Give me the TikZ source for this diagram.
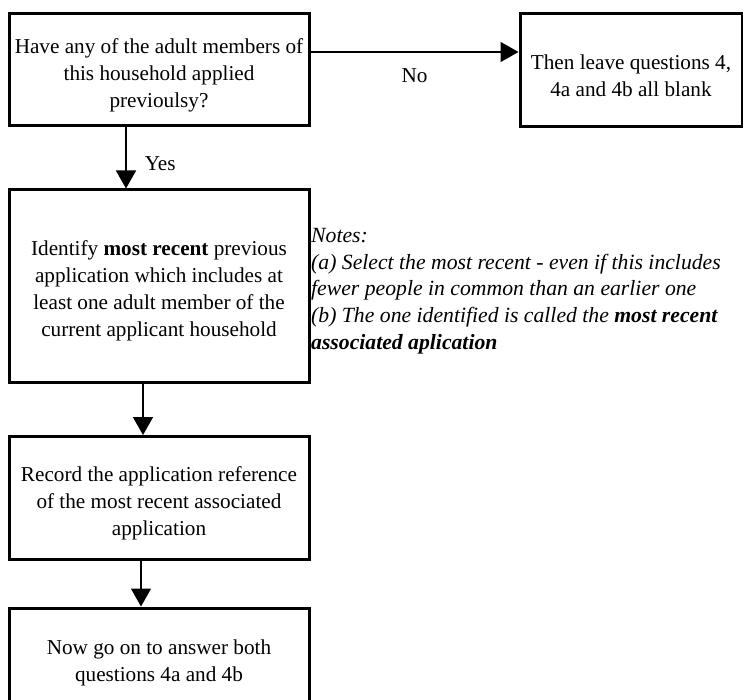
\documentclass[tikz,border=0pt]{standalone}
\usepackage{fontspec}
\setmainfont{Liberation Serif}
\usetikzlibrary{arrows.meta}

\newcommand{\boxgap}{\rule{0pt}{25pt}}

\begin{document}
\begin{tikzpicture}[x=1pt,y=-1pt]

	%\draw[help lines] (0,0) grid[step=50] (743,700);

	\tikzset{box/.style={draw,line width=3pt,inner sep=0pt,align=center,font=\fontsize{21.2}{27}\selectfont}}
	\tikzset{arr/.style={line width=1.5pt,-{Triangle[length=18pt,width=20pt]}}}
	\tikzset{lbl/.style={inner sep=0pt,font=\fontsize{21.2}{27}\selectfont}}

	\useasboundingbox (0,0) rectangle (743,700);
	\clip (0,0) rectangle (743,700);

	% boxes

	\node[box,minimum width=300pt,minimum height=112pt] (ask) at (159,70) {\boxgap Have any of the adult members of\\this household applied\\previoulsy?};
	\node[box,minimum width=222pt,minimum height=113pt] (blank) at (631,70.5) {\boxgap Then leave questions 4,\\4a and 4b all blank};
	\node[box,minimum width=300pt,minimum height=192pt] (ident) at (159,286) {\boxgap Identify \textbf{most recent} previous\\application which includes at\\least one adult member of the\\current applicant household};
	\node[box,minimum width=300pt,minimum height=123pt] (record) at (159,498) {\boxgap Record the application reference\\of the most recent associated\\application};
	\node[box,minimum width=300pt,minimum height=100pt] (answer) at (159,658) {\boxgap Now go on to answer both\\questions 4a and 4b};

	% notes

	\node[lbl,anchor=north west,align=left,font=\fontsize{21.7}{26.7}\selectfont\itshape] (notes) at (311,228) {Notes:\\(a) Select the most recent - even if this includes\\fewer people in common than an earlier one\\(b) The one identified is called the \textbf{most recent}\\\textbf{associated aplication}};

	% arrows

	\draw[arr] ([yshift=18pt]ask.east) -- ([yshift=18pt]ask.east -| blank.west) node[lbl,midway,below=16pt] (no) {No};
	\draw[arr] ([xshift=-33pt]ask.south) -- ([xshift=-33pt]ident.north) node[lbl,pos=0.6,right=18pt] (yes) {Yes};
	\draw[arr] ([xshift=-16pt]ident.south) -- ([xshift=-16pt]record.north);
	\draw[arr] ([xshift=-18pt]record.south) -- ([xshift=-18pt]answer.north);

\end{tikzpicture}
\end{document}
